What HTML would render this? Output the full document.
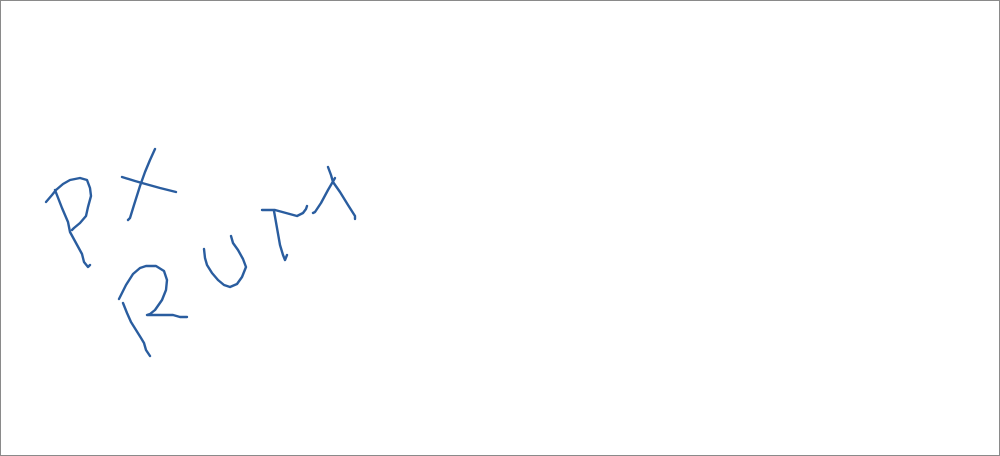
<!DOCTYPE html>
<html><head><meta charset="utf-8"><style>
html,body{margin:0;padding:0;background:#fff;}
#frame{position:relative;width:998px;height:454px;border:1px solid #8a8a8a;background:#fff;}
svg{position:absolute;left:-1px;top:-1px;}
polyline{fill:none;stroke:#2a5d9f;stroke-width:2.4;stroke-linecap:round;stroke-linejoin:round;}
</style></head><body>
<div id="frame">
<svg width="1000" height="456" viewBox="0 0 1000 456">
<g>
<polyline points="46,202 52,195 56,190 63,184 70,180 80,178 87,180 90,188 91,196 88,207 86,216 80,223 74,228 72,230"/>
<polyline points="55,190 62,208 68,222 70,232 76,243 82,254 84,262 88,267 90,265"/>
</g>
<g>
<polyline points="122,177 135,181 142,183 160,188 176,192"/>
<polyline points="155,149 150,160 145,172 140,186 134,205 130,218 128,220"/>
</g>
<g>
<polyline points="119,299 126,285 133,274 140,268 146,266 156,266 164,271 167,280 166,290 162,300 155,310 150,314 147,315 160,315 173,315 180,317 187,317"/>
<polyline points="123,303 127,313 131,322 136,330 141,338 144,343 146,350 150,356"/>
</g>
<g>
<polyline points="204,249 205,258 207,265 212,273 218,280 224,285 230,287 237,284 242,277 246,267 243,259 238,250 233,243 231,236"/>
</g>
<g>
<polyline points="262,210 275,210 286,213 297,216 303,213 306,209 307,206"/>
<polyline points="274,211 277,228 280,245 283,255 285,260 287,255"/>
</g>
<g>
<polyline points="328,167 331,175 333,182 340,192 348,205 355,216 355,219"/>
<polyline points="335,178 328,190 321,203 315,212 313,213"/>
</g>
</svg>
</div>
</body></html>
